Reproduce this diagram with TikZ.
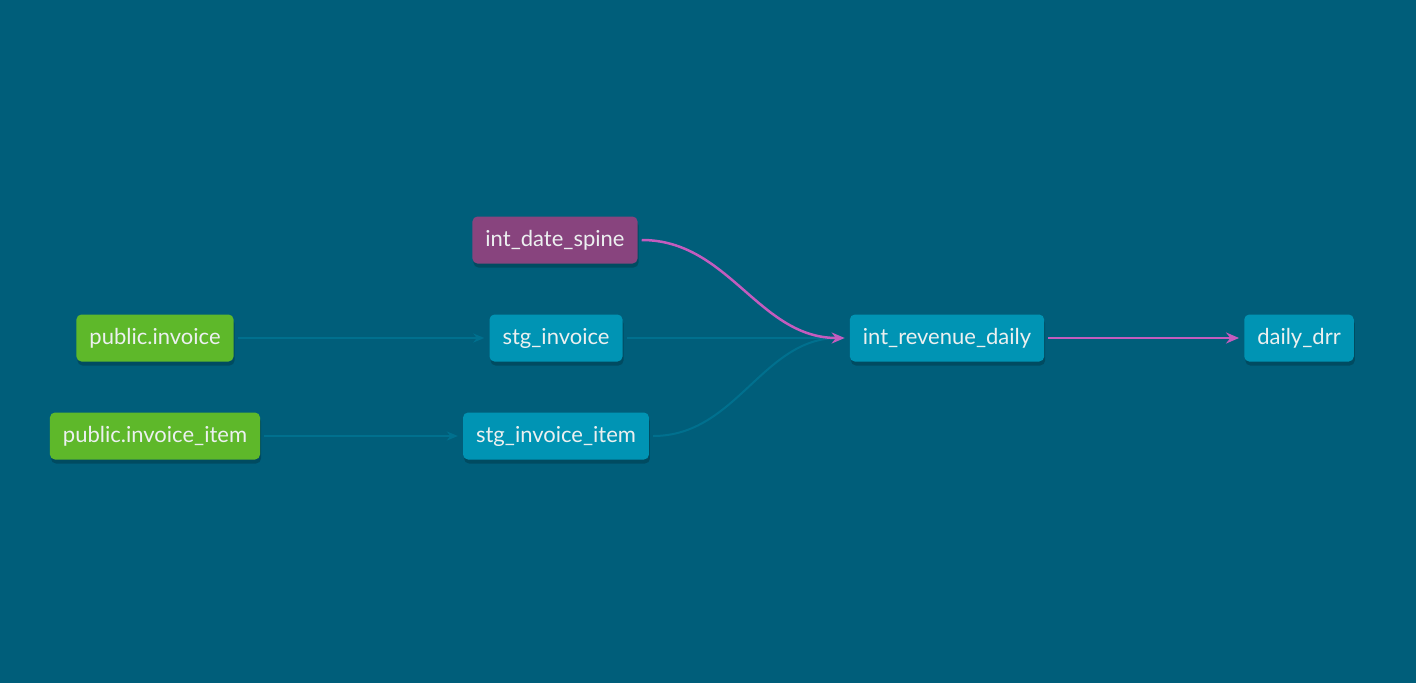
\documentclass[tikz,border=0pt]{standalone}
\usepackage{fontspec}
\setmainfont{Lato}
\usetikzlibrary{shadows,arrows.meta}
\definecolor{dbt_bg}{RGB}{0, 94, 122}
\definecolor{dbt_green}{RGB}{94, 184, 42}
\definecolor{dbt_purple}{RGB}{136, 68, 126}
\definecolor{dbt_blue}{RGB}{0, 148, 180}
\definecolor{dbt_edge}{RGB}{0, 112, 142}
\definecolor{dbt_pink}{RGB}{196, 92, 190}
\definecolor{dbt_text}{RGB}{236, 240, 240}
\tikzstyle{model}=[rectangle,rounded corners=5pt,text=dbt_text,inner xsep=13pt,
  minimum height=47pt,font=\fontsize{22}{26}\selectfont,
  drop shadow={shadow xshift=1pt,shadow yshift=-4pt,opacity=0.2,fill=black}]
\tikzstyle{src}=[model,fill=dbt_green]
\tikzstyle{mdl}=[model,fill=dbt_blue]
\tikzstyle{ana}=[model,fill=dbt_purple]
\tikzstyle{edge}=[draw=dbt_edge,line width=2pt,-{Stealth[length=11pt,width=9pt]}]
\tikzstyle{hedge}=[draw=dbt_pink,line width=2.5pt,-{Stealth[length=13pt,width=11pt]}]

\begin{document}
\begin{tikzpicture}[x=1pt,y=-1pt]
        \fill [dbt_bg] (0,0) rectangle (1416,683);
        \useasboundingbox (0,0) rectangle (1416,683);
        \node [style=src] (inv) at (155,338) {public.invoice};
        \node [style=src] (item) at (155,436) {public.invoice\_item};
        \node [style=ana] (spine) at (555,240) {int\_date\_spine};
        \node [style=mdl] (sinv) at (556,338) {stg\_invoice};
        \node [style=mdl] (sitem) at (556,436) {stg\_invoice\_item};
        \node [style=mdl] (rev) at (947,338) {int\_revenue\_daily};
        \node [style=mdl] (drr) at (1299,338) {daily\_drr};
        \draw [style=edge,shorten <=4pt,shorten >=5pt] (inv) to (sinv);
        \draw [style=edge,shorten <=4pt,shorten >=5pt] (item) to (sitem);
        \draw [style=edge,shorten <=4pt,shorten >=5pt] (sinv) to (rev);
        \draw [style=edge,shorten <=4pt,shorten >=5pt] (sitem.east) to [out=0,in=180] (rev.west);
        \draw [style=hedge,shorten <=4pt,shorten >=5pt] (spine.east) to [out=0,in=180] (rev.west);
        \draw [style=hedge,shorten <=4pt,shorten >=5pt] (rev) to (drr);
    \end{tikzpicture}
\end{document}
